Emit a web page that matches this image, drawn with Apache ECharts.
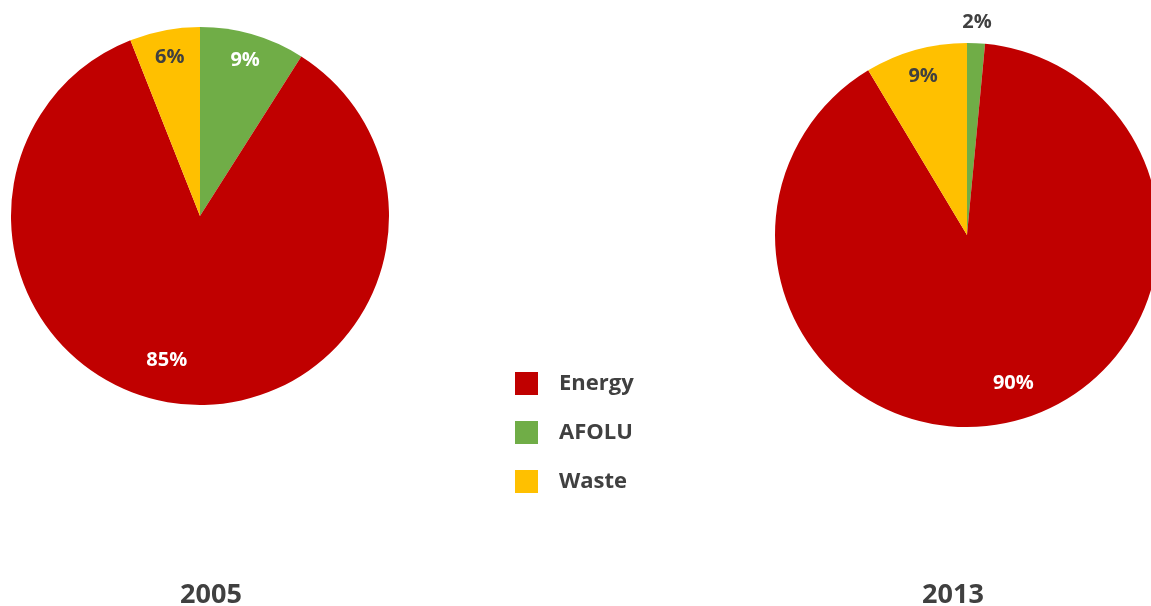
<!DOCTYPE html>
<html>
<head>
<meta charset="utf-8">
<script src="https://cdn.jsdelivr.net/npm/echarts@6/dist/echarts.min.js"></script>
<style>
html,body{margin:0;padding:0;background:#fff;}
#chart{width:1151px;height:606px;}
</style>
</head>
<body>
<div id="chart"></div>
<script>
// Data
const categories = ['Energy', 'AFOLU', 'Waste'];
const years = ['2005', '2013'];
const values2005 = [85, 9, 6];
const values2013 = [89.9, 1.5, 8.6];
const colors = ['#C00000', '#70AD47', '#FFC000'];
const labelColors = ['#FFFFFF', '#FFFFFF', '#404040'];

// slices drawn clockwise from 12 o'clock: AFOLU, Energy, Waste
const sliceOrder = [1, 0, 2];

const FONT = '"Open Sans", "Noto Sans", sans-serif';

function pieData(values, withColor) {
  return sliceOrder.map(i => ({
    name: categories[i],
    value: values[i],
    itemStyle: withColor ? { color: colors[i] } : { color: 'rgba(0,0,0,0)' }
  }));
}

function pct(p) { return Math.round(p.percent) + '%'; }

const leftC = [200, 216], leftR = 189;
const rightC = [967, 235], rightR = 192;

function mainSeries(values, center, r) {
  return {
    type: 'pie', center: center, radius: [0, r], startAngle: 90, clockwise: true,
    data: pieData(values, true), label: { show: false }, labelLine: { show: false },
    emphasis: { disabled: true }, silent: true, animation: false
  };
}

function labelSeries(values, center, r0, r1, showIdx, nudges, color) {
  const d = pieData(values, false).map((it, k) => {
    const ci = sliceOrder[k];
    it.label = { show: showIdx.indexOf(ci) >= 0, color: color || labelColors[ci] };
    return it;
  });
  return {
    type: 'pie', center: center, radius: [r0, r1], startAngle: 90, clockwise: true,
    data: d,
    label: { show: true, position: 'inside', formatter: pct, fontFamily: FONT, fontWeight: 'bold', fontSize: 20 },
    labelLine: { show: false },
    labelLayout: function (p) {
      const n = nudges[sliceOrder[p.dataIndex]];
      return n ? { dx: n[0], dy: n[1] } : {};
    },
    emphasis: { disabled: true }, silent: true, animation: false, legendHoverLink: false
  };
}

const titleStyle = { fontFamily: FONT, fontWeight: 'bold', fontSize: 27, color: '#404040' };

const option = {
  backgroundColor: '#ffffff',
  animation: false,
  title: [
    { text: years[0], left: 206, top: 577, textAlign: 'center', textStyle: titleStyle },
    { text: years[1], left: 948, top: 577, textAlign: 'center', textStyle: titleStyle }
  ],
  legend: {
    orient: 'vertical', left: 510, top: 367,
    data: categories, icon: 'rect', itemWidth: 23, itemHeight: 23, itemGap: 26,
    selectedMode: false,
    textStyle: { fontFamily: FONT, fontWeight: 'bold', fontSize: 22, color: '#404040', padding: [0, 0, 0, 16] }
  },
  series: [
    mainSeries(values2005, leftC, leftR),
    mainSeries(values2013, rightC, rightR),
    labelSeries(values2005, leftC, leftR * 0.68, leftR, [0, 1, 2], { 0: [-18, -17] }),
    labelSeries(values2013, rightC, rightR * 0.68, rightR, [0, 2], { 0: [10, -12] }),
    labelSeries(values2013, rightC, rightR + 8, rightR + 28, [1], {}, '#404040')
  ]
};

const chart = echarts.init(document.getElementById('chart'), null, { renderer: 'canvas' });
chart.setOption(option);
</script>
</body>
</html>
